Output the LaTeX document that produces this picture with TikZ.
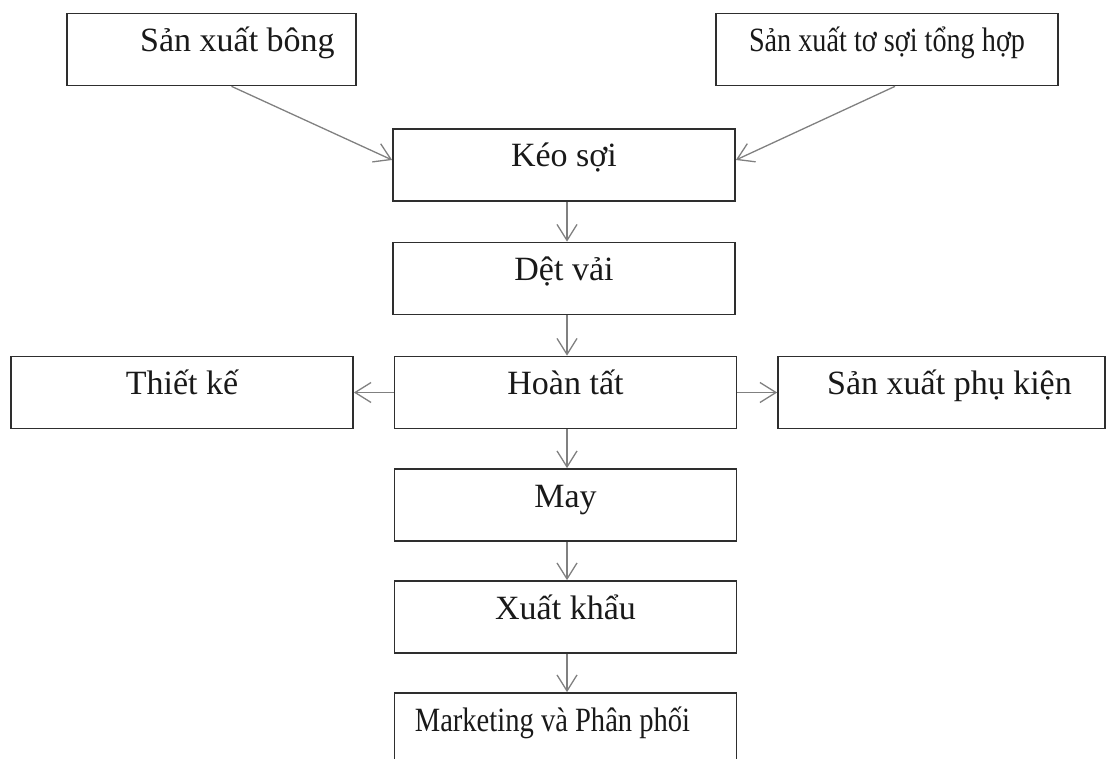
\documentclass[tikz,border=0pt]{standalone}
\usepackage{fontspec}
\setmainfont{Liberation Serif}
\usetikzlibrary{arrows.meta}
\definecolor{boxline}{HTML}{2E2E2E}
\definecolor{arrowline}{HTML}{808080}
\tikzset{
  stagebox/.style={draw=boxline, line width=1.7pt, rectangle, inner xsep=0pt, inner ysep=0pt,
    minimum width=342pt, text height=38pt, text depth=34pt,
    font=\fontsize{34}{40}\selectfont, text=black!90},
  flow/.style={draw=arrowline, line width=1.3pt,
    -{Straight Barb[length=16pt, width=20pt, line width=1.3pt]}},
}
\begin{document}
\begin{tikzpicture}[x=1pt, y=-1pt]
  \useasboundingbox (0,0) rectangle (1108,759);
  \clip (0,0) rectangle (1108,759);

  % raw material stages
  \node[stagebox, minimum width=289pt] (bong) at (211.5,49.5) {\hspace*{52pt}Sản xuất bông};
  \node[stagebox] (tong) at (887,49.5) {\scalebox{0.83}[1]{Sản xuất tơ sợi tổng hợp}};

  % main production chain
  \node[stagebox] (keo)  at (564,165)   {Kéo sợi};
  \node[stagebox] (det)  at (564,278.5) {Dệt vải};
  \node[stagebox] (hoan) at (565.5,392.5) {Hoàn tất};
  \node[stagebox] (may)  at (565.5,505) {May};
  \node[stagebox] (xuat) at (565.5,617) {Xuất khẩu};
  \node[stagebox] (mkt)  at (565.5,729) {\scalebox{0.84}[1]{Marketing và Phân phối}\hspace*{26pt}};

  % side branches
  \node[stagebox] (thiet) at (182,392.5) {Thiết kế};
  \node[stagebox, minimum width=327pt] (phu) at (941.5,392.5) {\hspace*{16pt}Sản xuất phụ kiện};

  % connectors
  \draw[flow] ([xshift=20pt]bong.south) -- ([yshift=5pt]keo.west);
  \draw[flow] ([xshift=8pt]tong.south) -- ([yshift=5pt]keo.east);
  \draw[flow] ([xshift=3pt]keo.south)  -- ([xshift=3pt]det.north);
  \draw[flow] ([xshift=3pt]det.south)  -- ([xshift=1.5pt]hoan.north);
  \draw[flow] ([xshift=1.5pt]hoan.south) -- ([xshift=1.5pt]may.north);
  \draw[flow] ([xshift=1.5pt]may.south)  -- ([xshift=1.5pt]xuat.north);
  \draw[flow] ([xshift=1.5pt]xuat.south) -- ([xshift=1.5pt]mkt.north);
  \draw[flow] (hoan.west) -- (thiet.east);
  \draw[flow] (hoan.east) -- (phu.west);
\end{tikzpicture}
\end{document}
